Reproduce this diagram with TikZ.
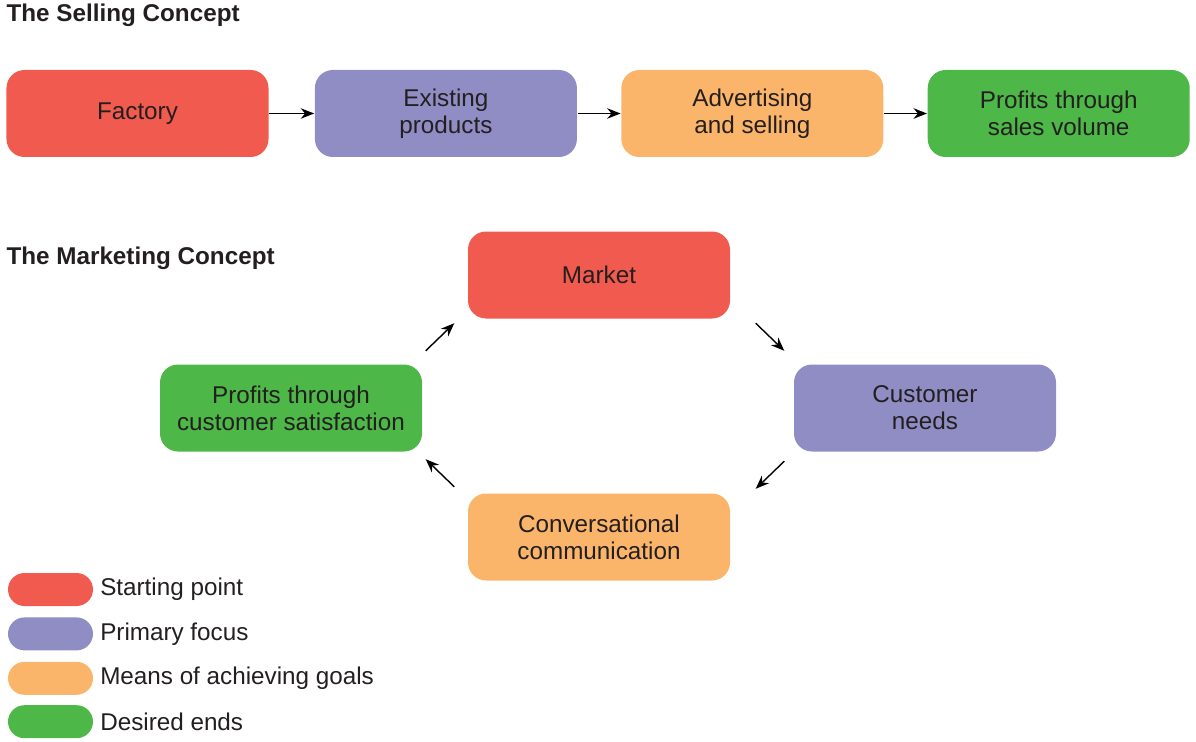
\documentclass[tikz,border=0pt]{standalone}
\usepackage{fontspec}
\setmainfont{Liberation Sans}
\usetikzlibrary{arrows.meta, positioning, calc}
\definecolor{startred}{HTML}{F15A4E}
\definecolor{focusblue}{HTML}{8F8DC4}
\definecolor{meansorange}{HTML}{FBB56B}
\definecolor{endsgreen}{HTML}{4DB748}
\definecolor{inktext}{HTML}{231F20}

\begin{document}
\begin{tikzpicture}[->,>={Stealth[length=2.7mm,width=2.1mm]},line width=0.8pt,node distance=0.86cm,
    concept/.style={rectangle, rounded corners=0.36cm, minimum width=5.24cm,
        minimum height=1.74cm, align=center, text=inktext,
        font=\fontsize{13.8}{15.5}\selectfont},
    pill/.style={rectangle, rounded corners=0.33cm, minimum width=1.7cm,
        minimum height=0.66cm},
    keytext/.style={anchor=west, text=inktext, font=\fontsize{13.8}{16}\selectfont},
    heading/.style={anchor=west, text=inktext, font=\fontsize{13.8}{16}\selectfont\bfseries}]

        \useasboundingbox (0,0) rectangle (23.92,-14.84);

        % selling concept
        \node[heading] (sellhead) at (0.0,-0.3) {The Selling Concept};
        \node[concept, fill=startred] (factory) at (2.75,-2.27) {Factory};
        \node[concept, fill=focusblue] (existing) [right=0.9cm of factory] {Existing\\products};
        \node[concept, fill=meansorange] (advert) [right=of existing] {Advertising\\and selling};
        \node[concept, fill=endsgreen] (salesprofit) [right=of advert] {Profits through\\sales volume};

        \path
        (factory) edge (existing)
        (existing) edge (advert)
        (advert) edge (salesprofit)
        ;

        % marketing concept
        \node[heading] (markhead) at (0.0,-5.16) {The Marketing Concept};
        \node[concept, fill=startred] (market) at (11.98,-5.5) {Market};
        \node[concept, fill=focusblue] (needs) at (18.5,-8.16) {Customer\\needs};
        \node[concept, fill=meansorange] (talk) at (11.98,-10.74) {Conversational\\communication};
        \node[concept, fill=endsgreen] (satisfy) at (5.82,-8.16) {Profits through\\customer satisfaction};

        \coordinate (a1) at ($(market.south east)+(0.5,-0.08)$);
        \coordinate (b1) at ($(needs.north west)+(-0.18,0.26)$);
        \coordinate (a2) at ($(needs.south west)+(-0.18,-0.18)$);
        \coordinate (b2) at ($(talk.north east)+(0.5,0.08)$);
        \coordinate (a3) at ($(talk.north west)+(-0.26,0.12)$);
        \coordinate (b3) at ($(satisfy.south east)+(0.06,-0.14)$);
        \coordinate (a4) at ($(satisfy.north east)+(0.06,0.26)$);
        \coordinate (b4) at ($(market.south west)+(-0.26,-0.08)$);

        \draw (a1) -- (b1);
        \draw (a2) -- (b2);
        \draw (a3) -- (b3);
        \draw (a4) -- (b4);

        % legend
        \node[pill, fill=startred] (keystart) at (1.01,-11.79) {};
        \node[pill, fill=focusblue] (keyfocus) [below=0.2cm of keystart] {};
        \node[pill, fill=meansorange] (keymeans) [below=0.2cm of keyfocus] {};
        \node[pill, fill=endsgreen] (keyends) [below=0.18cm of keymeans] {};

        \node[keytext] (txtstart) [right=0cm of keystart] {Starting point};
        \node[keytext] (txtfocus) [right=0cm of keyfocus] {Primary focus};
        \node[keytext] (txtmeans) [right=0cm of keymeans] {Means of achieving goals};
        \node[keytext] (txtends) [right=0cm of keyends] {Desired ends};
\end{tikzpicture}
\end{document}
